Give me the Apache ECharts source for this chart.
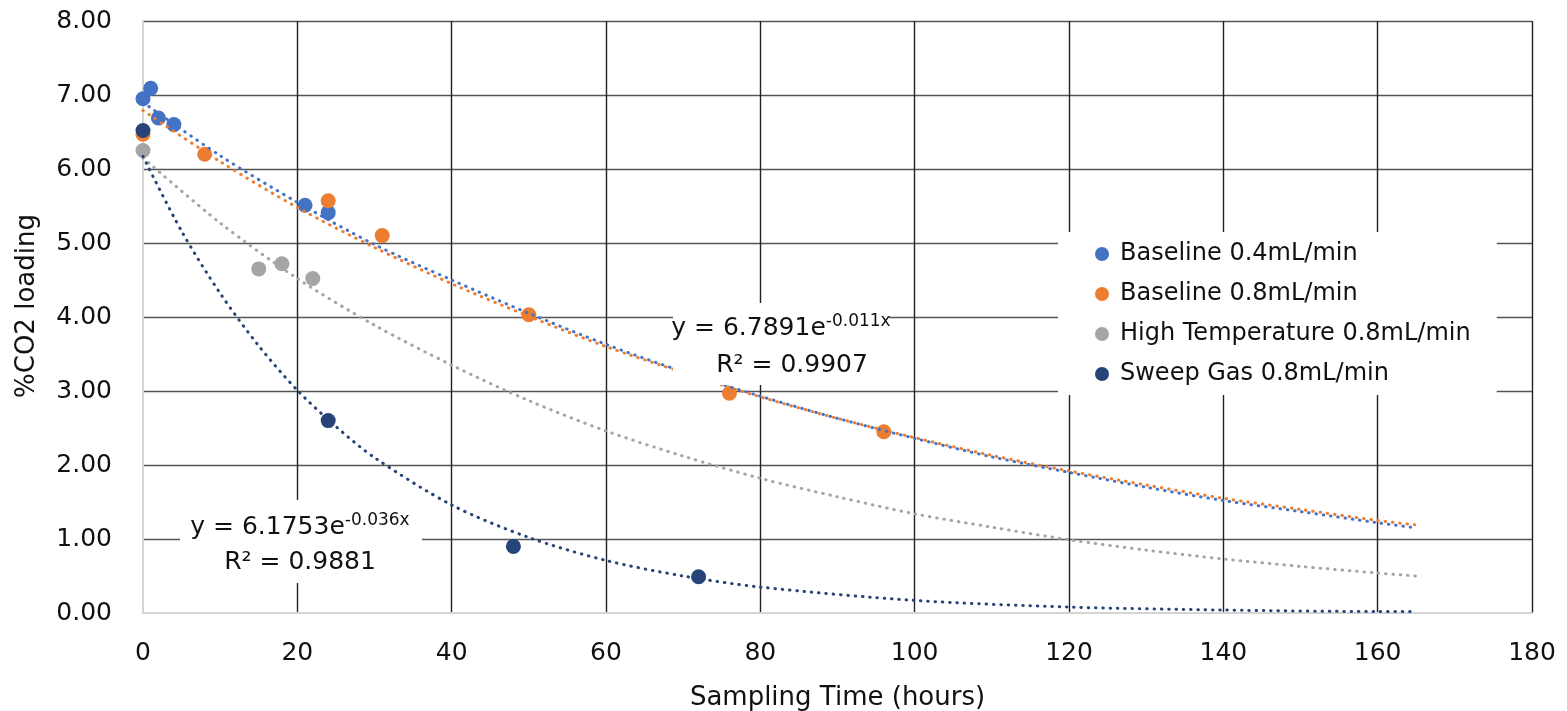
<!DOCTYPE html>
<html>
<head>
<meta charset="utf-8">
<script src="https://cdn.jsdelivr.net/npm/echarts@6/dist/echarts.min.js"></script>
<style>
    html, body { margin: 0; padding: 0; background: #fff; }
    #chart { width: 1567px; height: 711px; }
</style>
</head>
<body>
<div id="chart"></div>
<script>
// measured points (hours, %CO2)
const base04X = [0, 1, 2, 4, 21, 24];
const base04Y = [6.95, 7.09, 6.69, 6.60, 5.51, 5.41];
const base08X = [0, 8, 24, 31, 50, 76, 96];
const base08Y = [6.47, 6.20, 5.57, 5.10, 4.03, 2.97, 2.45];
const hiTempX = [0, 15, 18, 22];
const hiTempY = [6.25, 4.65, 4.72, 4.52];
const sweepX = [0, 24, 48, 72];
const sweepY = [6.52, 2.60, 0.90, 0.49];

// trend lines
const trendX = [0, 10, 20, 30, 40, 50, 60, 70, 80, 90, 100, 110, 120, 130, 140, 150, 160, 165];
const trend04Y = [6.90, 6.18, 5.55, 4.98, 4.50, 4.05, 3.63, 3.26, 2.93, 2.63, 2.36, 2.11, 1.90, 1.70, 1.52, 1.37, 1.22, 1.15];
const trend08Y = [6.79, 6.10, 5.48, 4.94, 4.45, 4.01, 3.60, 3.25, 2.92, 2.63, 2.37, 2.13, 1.92, 1.73, 1.55, 1.40, 1.25, 1.19];
const trendHiY = [6.15, 5.27, 4.52, 3.89, 3.35, 2.87, 2.46, 2.12, 1.82, 1.57, 1.34, 1.16, 0.99, 0.85, 0.73, 0.63, 0.54, 0.50];
const trendSweepX = [0, 5, 10, 15, 20, 25, 30, 40, 50, 60, 70, 80, 100, 120, 140, 160, 165];
const trendSweepY = [6.17, 5.16, 4.32, 3.61, 3.01, 2.52, 2.10, 1.46, 1.02, 0.71, 0.50, 0.35, 0.17, 0.08, 0.04, 0.02, 0.02];

const names = ['Baseline 0.4mL/min', 'Baseline 0.8mL/min', 'High Temperature 0.8mL/min', 'Sweep Gas 0.8mL/min'];
const colors = ['#4472C4', '#ED7D31', '#A5A5A5', '#264478'];

const FONT = 'DejaVu Sans';

function zip(xs, ys) {
    return xs.map((x, i) => [x, ys[i]]);
}

function scatter(i, xs, ys) {
    return {
        name: names[i],
        type: 'scatter',
        data: zip(xs, ys),
        symbol: 'circle',
        symbolSize: 15,
        itemStyle: { color: colors[i], opacity: 1 },
        z: 2
    };
}

function trend(i, xs, ys) {
    return {
        name: 'trend ' + i,
        type: 'line',
        data: zip(xs, ys),
        showSymbol: false,
        smooth: 0.3,
        lineStyle: { color: colors[i], width: 3, type: [0.5, 6.8], cap: 'round' },
        silent: true,
        z: 3
    };
}

const chart = echarts.init(document.getElementById('chart'));

let option = {
    animation: false,
    grid: { left: 143, right: 35, top: 21, bottom: 98, outerBoundsMode: 'none' },
    xAxis: {
        type: 'value',
        min: 0,
        max: 180,
        interval: 20,
        name: 'Sampling Time (hours)',
        nameLocation: 'middle',
        nameGap: 72,
        nameTextStyle: { fontFamily: FONT, fontSize: 26, color: '#111' },
        axisLine: { show: true, lineStyle: { color: '#d4d4d4', width: 2 } },
        axisTick: { show: false },
        axisLabel: { fontFamily: FONT, fontSize: 25, color: '#111', margin: 28 },
        splitLine: { show: true, showMinLine: false, lineStyle: { color: '#222', width: 1.4 } }
    },
    yAxis: {
        type: 'value',
        min: 0,
        max: 8,
        interval: 1,
        name: '%CO2 loading',
        nameLocation: 'middle',
        nameGap: 103,
        nameTextStyle: { fontFamily: FONT, fontSize: 26, color: '#111', padding: [0, 0, 0, 22] },
        axisLine: { show: true, lineStyle: { color: '#d4d4d4', width: 2 } },
        axisTick: { show: false },
        axisLabel: {
            fontFamily: FONT,
            fontSize: 25,
            color: '#111',
            margin: 31,
            formatter: (v) => v.toFixed(2)
        },
        splitLine: { show: true, showMinLine: false, lineStyle: { color: '#555', width: 1.4 } }
    },
    legend: {
        data: names,
        orient: 'vertical',
        left: 1058,
        top: 232,
        backgroundColor: '#fff',
        padding: [10, 26, 9, 37],
        icon: 'circle',
        itemWidth: 14,
        itemHeight: 14,
        itemGap: 16,
        textStyle: { fontFamily: FONT, fontSize: 24, color: '#111', lineHeight: 23, padding: [0, 0, 0, 6] },
        z: 20
    },
    series: [
        scatter(0, base04X, base04Y),
        scatter(1, base08X, base08Y),
        scatter(2, hiTempX, hiTempY),
        scatter(3, sweepX, sweepY),
        trend(1, trendX, trend08Y),
        trend(0, trendX, trend04Y),
        trend(2, trendX, trendHiY),
        trend(3, trendSweepX, trendSweepY)
    ],
    graphic: [
        // fit label for baseline 0.8
        { type: 'rect', shape: { x: 673, y: 303, width: 216, height: 82 }, style: { fill: '#fff' }, z: 10 },
        {
            type: 'text', x: 781, y: 328, z: 11,
            style: {
                text: '{m|y = 6.7891e}{s|-0.011x}',
                align: 'center', verticalAlign: 'middle',
                rich: {
                    m: { fontFamily: FONT, fontSize: 25, fill: '#111', lineHeight: 30 },
                    s: { fontFamily: FONT, fontSize: 17, fill: '#111', lineHeight: 30, verticalAlign: 'top' }
                }
            }
        },
        {
            type: 'text', x: 792, y: 365, z: 11,
            style: { text: 'R² = 0.9907', fontFamily: FONT, fontSize: 25, fill: '#111', align: 'center', verticalAlign: 'middle' }
        },
        // fit label for sweep gas
        { type: 'rect', shape: { x: 180, y: 500, width: 242, height: 83 }, style: { fill: '#fff' }, z: 10 },
        {
            type: 'text', x: 300, y: 527, z: 11,
            style: {
                text: '{m|y = 6.1753e}{s|-0.036x}',
                align: 'center', verticalAlign: 'middle',
                rich: {
                    m: { fontFamily: FONT, fontSize: 25, fill: '#111', lineHeight: 30 },
                    s: { fontFamily: FONT, fontSize: 17, fill: '#111', lineHeight: 30, verticalAlign: 'top' }
                }
            }
        },
        {
            type: 'text', x: 300, y: 562, z: 11,
            style: { text: 'R² = 0.9881', fontFamily: FONT, fontSize: 25, fill: '#111', align: 'center', verticalAlign: 'middle' }
        }
    ]
};

chart.setOption(option);
</script>
</body>
</html>
